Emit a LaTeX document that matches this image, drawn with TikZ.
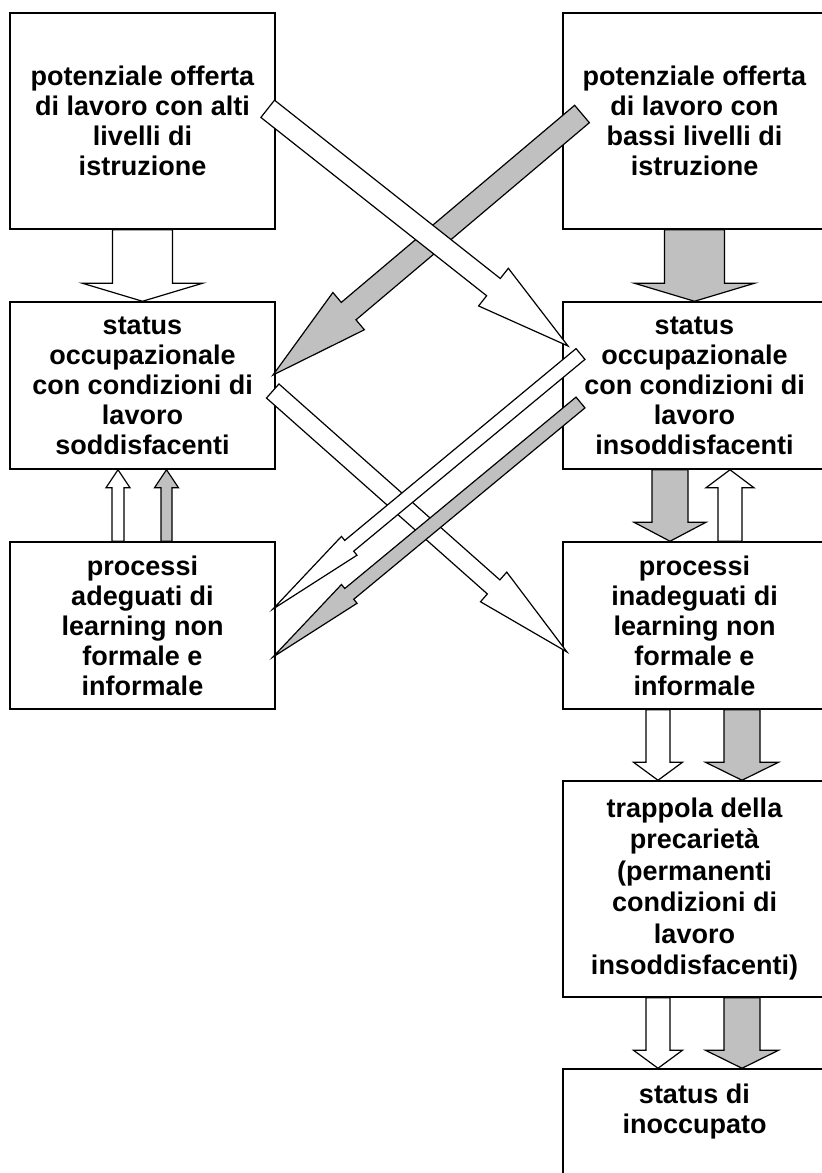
\documentclass[tikz,border=0pt]{standalone}
\usepackage{fontspec}
\setmainfont{Liberation Sans}
\usetikzlibrary{calc}
\definecolor{arrgray}{RGB}{192,192,192}
\tikzset{
  box/.style={draw=black, line width=1.5pt, fill=white, align=center,
    font=\bfseries\fontsize{27}{30}\selectfont, inner sep=0pt},
  boxtext/.style={align=center, font=\bfseries\fontsize{27}{30}\selectfont, inner sep=0pt},
  whitearr/.style={draw=black, fill=white, line width=1.2pt},
  grayarr/.style={draw=black, fill=arrgray, line width=1.2pt},
}
% #1 style, #2 tail coordinate, #3 tip coordinate, #4 half shaft, #5 half head, #6 head length
\newcommand\barrow[6]{%
  \path let \p1=(#2), \p2=(#3) in
    \pgfextra{\pgfmathsetmacro\baAng{atan2((\y2)-(\y1),(\x2)-(\x1))}%
      \pgfmathsetmacro\baLen{veclen((\x2)-(\x1),(\y2)-(\y1))}%
      \global\let\baAng\baAng\global\let\baLen\baLen};
  \draw[#1, shift={(#2)}, rotate=\baAng]
    (0pt,#4pt) -- ({\baLen pt-#6pt},#4pt) -- ({\baLen pt-#6pt},#5pt) -- ({\baLen pt},0pt)
    -- ({\baLen pt-#6pt},-#5pt) -- ({\baLen pt-#6pt},-#4pt) -- (0pt,-#4pt) -- cycle;
}
\begin{document}
\begin{tikzpicture}[x=1pt,y=-1pt]
\useasboundingbox (0,0) rectangle (822,1173);
\clip (0,0) rectangle (822,1173);
% boxes
\node[box, minimum width=265pt, minimum height=216pt] (tl) at (142.5,121)
  {potenziale offerta\\di lavoro con alti\\livelli di\\istruzione};
\node[box, minimum width=263pt, minimum height=216pt] (tr) at (694.5,121)
  {potenziale offerta\\di lavoro con\\bassi livelli di\\istruzione};
\node[box, minimum width=265pt, minimum height=167pt] (ml) at (142.5,385.5)
  {status\\occupazionale\\con condizioni di\\lavoro\\soddisfacenti};
\node[box, minimum width=263pt, minimum height=167pt] (mr) at (694.5,385.5)
  {status\\occupazionale\\con condizioni di\\lavoro\\insoddisfacenti};
\node[box, minimum width=265pt, minimum height=167pt] (bl) at (142.5,625.5)
  {processi\\adeguati di\\learning non\\formale e\\informale};
\node[box, minimum width=263pt, minimum height=167pt] (br) at (694.5,625.5)
  {processi\\inadeguati di\\learning non\\formale e\\informale};
\node[box, minimum width=263pt, minimum height=216pt,
  font=\bfseries\fontsize{27}{31.5}\selectfont] (trap) at (694.5,889)
  {trappola della\\precariet\`a\\(permanenti\\condizioni di\\lavoro\\insoddisfacenti)};
\node[box, minimum width=263pt, minimum height=201pt] (ino) at (694.5,1169.5) {};
\node[boxtext] (inotext) at (694.5,1112) {status di\\inoccupato};
% named arrow ends
\coordinate (v3s) at ($(bl.north)+(-24.5,0)$); \coordinate (v3e) at ($(ml.south)+(-24.5,0)$);
\coordinate (v4s) at ($(bl.north)+(24,0)$);    \coordinate (v4e) at ($(ml.south)+(24,0)$);
\coordinate (v5s) at ($(mr.south)+(-24.5,0)$); \coordinate (v5e) at ($(br.north)+(-24.5,0)$);
\coordinate (v6s) at ($(br.north)+(35.5,0)$);  \coordinate (v6e) at ($(mr.south)+(35.5,0)$);
\coordinate (v7s) at ($(br.south)+(-36.5,0)$); \coordinate (v7e) at ($(trap.north)+(-36.5,0)$);
\coordinate (v8s) at ($(br.south)+(47.5,0)$);  \coordinate (v8e) at ($(trap.north)+(47.5,0)$);
\coordinate (v9s) at ($(trap.south)+(-36.5,0)$); \coordinate (v9e) at ($(ino.north)+(-36.5,0)$);
\coordinate (v10s) at ($(trap.south)+(47.5,0)$); \coordinate (v10e) at ($(ino.north)+(47.5,0)$);
\coordinate (aS) at (267.7,108.8); \coordinate (aE) at (568,346);
\coordinate (bS) at (582,114);     \coordinate (bE) at (273,375);
\coordinate (cS) at (272.7,391);   \coordinate (cE) at (567,652);
\coordinate (dS) at (580.5,354);   \coordinate (dE) at (273,609);
\coordinate (eS) at (580.5,402.5); \coordinate (eE) at (273,657);
% vertical arrows
\barrow{whitearr}{tl.south}{ml.north}{30}{60}{18}
\barrow{grayarr}{tr.south}{mr.north}{30}{60}{18}
\barrow{whitearr}{v3s}{v3e}{6}{12}{18}
\barrow{grayarr}{v4s}{v4e}{5.5}{12}{18}
\barrow{grayarr}{v5s}{v5e}{18}{36}{19}
\barrow{whitearr}{v6s}{v6e}{12}{24}{18}
\barrow{whitearr}{v7s}{v7e}{12}{24.5}{18}
\barrow{grayarr}{v8s}{v8e}{18}{36.5}{18}
\barrow{whitearr}{v9s}{v9e}{12}{24.5}{18}
\barrow{grayarr}{v10s}{v10e}{18}{36.5}{18}
% diagonal arrows
\barrow{grayarr}{bS}{bE}{11.4}{24.4}{99}
\barrow{whitearr}{aS}{aE}{11}{24}{95}
\barrow{whitearr}{cS}{cE}{9.4}{19.8}{98}
\barrow{whitearr}{dS}{dE}{7}{12.2}{99}
\barrow{grayarr}{eS}{eE}{7}{12.2}{99}
\end{tikzpicture}
\end{document}
